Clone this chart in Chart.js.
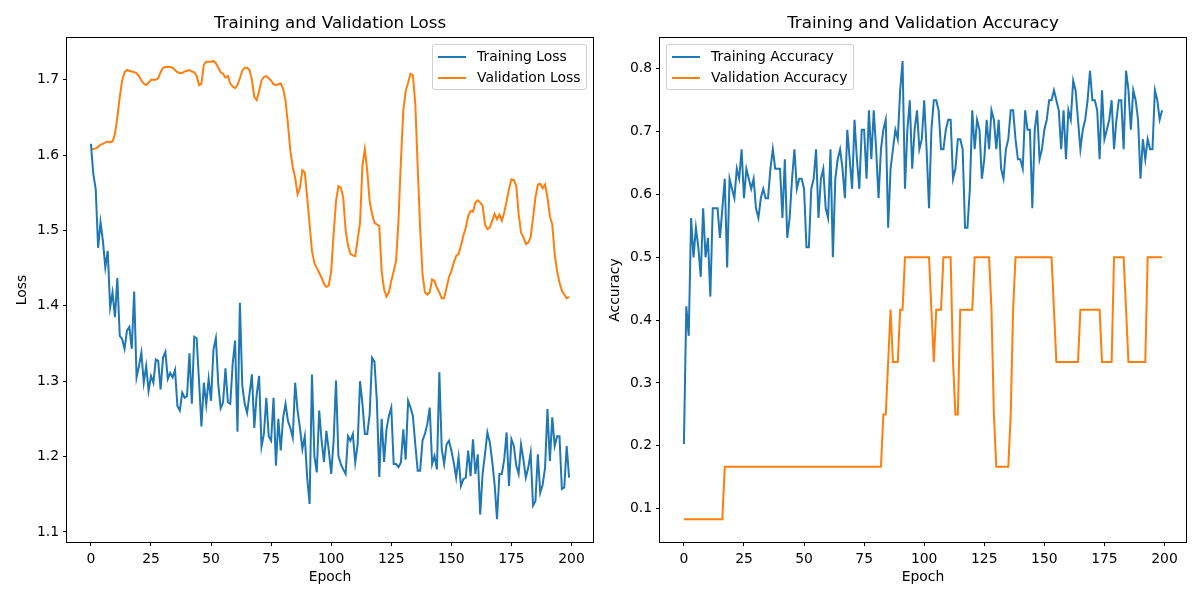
<!DOCTYPE html>
<html>
<head>
<meta charset="utf-8">
<title>Training and Validation curves</title>
<script src="https://cdn.jsdelivr.net/npm/chart.js@4.4.1/dist/chart.umd.min.js"></script>
<style>
  body { margin: 0; background: #fff; }
  #wrap { position: relative; width: 1200px; height: 600px; font-family: "DejaVu Sans", sans-serif; }
  .panel { position: absolute; top: 0; width: 600px; height: 600px; }
  .legend { position: absolute; top: 44px; height: 46px; box-sizing: border-box;
            border: 1px solid rgba(204, 204, 204, 0.9); border-radius: 3px;
            background: rgba(255, 255, 255, 0.8); font-size: 13.9px; color: #000; }
  .legend .swatch { position: absolute; left: 5px; width: 28px; height: 2px; }
  .legend .label { position: absolute; left: 44px; line-height: 16px; white-space: nowrap; }
</style>
</head>
<body>
<div id="wrap">
  <div class="panel" style="left:0"><canvas id="lossChart" width="600" height="600"></canvas></div>
  <div class="panel" style="left:600px"><canvas id="accChart" width="600" height="600"></canvas></div>

  <div class="legend" style="left:432px; width:155px">
    <div class="swatch" style="top:11px; background:#1f77b4"></div><div class="label" style="top:3px">Training Loss</div>
    <div class="swatch" style="top:32px; background:#ff7f0e"></div><div class="label" style="top:24px">Validation Loss</div>
  </div>
  <div class="legend" style="left:666px; width:188px">
    <div class="swatch" style="top:11px; background:#1f77b4"></div><div class="label" style="top:3px">Training Accuracy</div>
    <div class="swatch" style="top:32px; background:#ff7f0e"></div><div class="label" style="top:24px">Validation Accuracy</div>
  </div>
</div>

<script>
/*** values, one per epoch ***/
const trainLoss = [
  1.615, 1.575, 1.555, 1.477, 1.511, 1.486, 1.451, 1.473, 1.398, 1.418,
  1.385, 1.437, 1.360, 1.356, 1.343, 1.367, 1.372, 1.343, 1.419, 1.305,
  1.320, 1.338, 1.298, 1.320, 1.287, 1.307, 1.298, 1.329, 1.327, 1.289,
  1.331, 1.339, 1.303, 1.311, 1.305, 1.315, 1.267, 1.261, 1.285, 1.278,
  1.280, 1.337, 1.270, 1.359, 1.357, 1.300, 1.240, 1.298, 1.269, 1.303,
  1.274, 1.342, 1.357, 1.296, 1.264, 1.272, 1.317, 1.272, 1.270, 1.323,
  1.354, 1.233, 1.404, 1.294, 1.270, 1.258, 1.283, 1.309, 1.238, 1.283,
  1.307, 1.213, 1.230, 1.278, 1.227, 1.221, 1.278, 1.188, 1.250, 1.208,
  1.252, 1.270, 1.247, 1.238, 1.225, 1.298, 1.261, 1.238, 1.210, 1.227,
  1.172, 1.137, 1.309, 1.201, 1.179, 1.261, 1.221, 1.193, 1.234, 1.208,
  1.177, 1.221, 1.301, 1.201, 1.190, 1.183, 1.177, 1.227, 1.221, 1.230,
  1.192, 1.216, 1.300, 1.270, 1.230, 1.230, 1.256, 1.331, 1.326, 1.274,
  1.173, 1.250, 1.193, 1.236, 1.254, 1.265, 1.190, 1.190, 1.186, 1.192,
  1.236, 1.196, 1.274, 1.265, 1.254, 1.216, 1.181, 1.181, 1.221, 1.230,
  1.243, 1.265, 1.190, 1.201, 1.183, 1.312, 1.210, 1.190, 1.216, 1.221,
  1.208, 1.192, 1.172, 1.199, 1.161, 1.170, 1.172, 1.208, 1.174, 1.223,
  1.177, 1.203, 1.123, 1.177, 1.203, 1.232, 1.219, 1.194, 1.163, 1.117,
  1.177, 1.177, 1.196, 1.232, 1.161, 1.223, 1.214, 1.188, 1.177, 1.216,
  1.196, 1.172, 1.185, 1.205, 1.135, 1.141, 1.203, 1.152, 1.163, 1.185,
  1.263, 1.194, 1.252, 1.214, 1.227, 1.227, 1.157, 1.159, 1.214, 1.172
];

const valLoss = [
  1.608, 1.608, 1.609, 1.611, 1.614, 1.615, 1.617, 1.618, 1.617, 1.618,
  1.628, 1.650, 1.677, 1.699, 1.710, 1.713, 1.712, 1.711, 1.710, 1.709,
  1.705, 1.699, 1.695, 1.693, 1.696, 1.700, 1.700, 1.700, 1.702, 1.710,
  1.716, 1.717, 1.717, 1.717, 1.716, 1.713, 1.710, 1.709, 1.709, 1.711,
  1.712, 1.713, 1.711, 1.710, 1.705, 1.693, 1.695, 1.720, 1.724, 1.724,
  1.724, 1.725, 1.722, 1.716, 1.710, 1.708, 1.703, 1.705, 1.695, 1.691,
  1.689, 1.693, 1.702, 1.712, 1.716, 1.716, 1.713, 1.700, 1.677, 1.673,
  1.685, 1.699, 1.704, 1.705, 1.702, 1.699, 1.694, 1.693, 1.694, 1.695,
  1.688, 1.672, 1.641, 1.606, 1.584, 1.570, 1.548, 1.557, 1.580, 1.577,
  1.544, 1.508, 1.473, 1.457, 1.450, 1.444, 1.437, 1.429, 1.425, 1.427,
  1.446, 1.495, 1.539, 1.559, 1.557, 1.544, 1.500, 1.480, 1.469, 1.467,
  1.466, 1.488, 1.510, 1.586, 1.608, 1.579, 1.539, 1.522, 1.510, 1.508,
  1.506, 1.446, 1.422, 1.412, 1.418, 1.433, 1.446, 1.460, 1.513, 1.592,
  1.659, 1.685, 1.696, 1.708, 1.706, 1.668, 1.584, 1.504, 1.442, 1.418,
  1.415, 1.418, 1.435, 1.433, 1.424, 1.418, 1.410, 1.410, 1.424, 1.438,
  1.446, 1.457, 1.466, 1.469, 1.480, 1.493, 1.504, 1.519, 1.526, 1.525,
  1.537, 1.540, 1.537, 1.533, 1.508, 1.502, 1.504, 1.513, 1.522, 1.515,
  1.521, 1.513, 1.524, 1.539, 1.555, 1.568, 1.567, 1.559, 1.522, 1.497,
  1.491, 1.482, 1.484, 1.491, 1.517, 1.544, 1.561, 1.562, 1.556, 1.561,
  1.544, 1.519, 1.508, 1.469, 1.446, 1.431, 1.420, 1.415, 1.410, 1.412
];

const trainAcc = [
  0.203, 0.422, 0.375, 0.5625, 0.500, 0.547, 0.516, 0.469, 0.578, 0.500,
  0.531, 0.4375, 0.578, 0.578, 0.578, 0.531, 0.578, 0.625, 0.484, 0.625,
  0.609, 0.594, 0.641, 0.625, 0.672, 0.594, 0.641, 0.625, 0.609, 0.625,
  0.578, 0.5625, 0.594, 0.609, 0.594, 0.594, 0.641, 0.672, 0.641, 0.641,
  0.641, 0.5625, 0.656, 0.531, 0.5625, 0.625, 0.672, 0.609, 0.625, 0.625,
  0.609, 0.516, 0.516, 0.609, 0.625, 0.672, 0.5625, 0.625, 0.641, 0.578,
  0.5625, 0.672, 0.500, 0.625, 0.656, 0.672, 0.641, 0.594, 0.703, 0.656,
  0.609, 0.719, 0.656, 0.609, 0.703, 0.703, 0.625, 0.734, 0.656, 0.734,
  0.672, 0.594, 0.672, 0.703, 0.719, 0.547, 0.641, 0.672, 0.703, 0.688,
  0.766, 0.8125, 0.609, 0.703, 0.750, 0.641, 0.703, 0.734, 0.672, 0.688,
  0.750, 0.672, 0.578, 0.703, 0.750, 0.750, 0.734, 0.672, 0.672, 0.703,
  0.719, 0.719, 0.625, 0.641, 0.688, 0.688, 0.672, 0.547, 0.547, 0.609,
  0.734, 0.672, 0.719, 0.703, 0.625, 0.656, 0.719, 0.672, 0.734, 0.719,
  0.672, 0.719, 0.641, 0.625, 0.672, 0.688, 0.734, 0.734, 0.688, 0.656,
  0.656, 0.641, 0.734, 0.703, 0.703, 0.578, 0.703, 0.734, 0.656, 0.672,
  0.703, 0.719, 0.750, 0.750, 0.766, 0.750, 0.734, 0.672, 0.734, 0.656,
  0.734, 0.719, 0.781, 0.766, 0.719, 0.672, 0.703, 0.719, 0.750, 0.797,
  0.750, 0.750, 0.734, 0.656, 0.766, 0.688, 0.703, 0.719, 0.750, 0.672,
  0.719, 0.750, 0.750, 0.672, 0.797, 0.766, 0.703, 0.766, 0.750, 0.719,
  0.625, 0.688, 0.656, 0.688, 0.672, 0.672, 0.766, 0.750, 0.719, 0.734
];

const valAcc = [
  0.0833, 0.0833, 0.0833, 0.0833, 0.0833, 0.0833, 0.0833, 0.0833, 0.0833, 0.0833,
  0.0833, 0.0833, 0.0833, 0.0833, 0.0833, 0.0833, 0.0833, 0.1667, 0.1667, 0.1667,
  0.1667, 0.1667, 0.1667, 0.1667, 0.1667, 0.1667, 0.1667, 0.1667, 0.1667, 0.1667,
  0.1667, 0.1667, 0.1667, 0.1667, 0.1667, 0.1667, 0.1667, 0.1667, 0.1667, 0.1667,
  0.1667, 0.1667, 0.1667, 0.1667, 0.1667, 0.1667, 0.1667, 0.1667, 0.1667, 0.1667,
  0.1667, 0.1667, 0.1667, 0.1667, 0.1667, 0.1667, 0.1667, 0.1667, 0.1667, 0.1667,
  0.1667, 0.1667, 0.1667, 0.1667, 0.1667, 0.1667, 0.1667, 0.1667, 0.1667, 0.1667,
  0.1667, 0.1667, 0.1667, 0.1667, 0.1667, 0.1667, 0.1667, 0.1667, 0.1667, 0.1667,
  0.1667, 0.1667, 0.1667, 0.2500, 0.2500, 0.3333, 0.4167, 0.3333, 0.3333, 0.3333,
  0.4167, 0.4167, 0.5000, 0.5000, 0.5000, 0.5000, 0.5000, 0.5000, 0.5000, 0.5000,
  0.5000, 0.5000, 0.5000, 0.4167, 0.3333, 0.4167, 0.4167, 0.4167, 0.5000, 0.5000,
  0.5000, 0.5000, 0.3333, 0.2500, 0.2500, 0.4167, 0.4167, 0.4167, 0.4167, 0.4167,
  0.4167, 0.5000, 0.5000, 0.5000, 0.5000, 0.5000, 0.5000, 0.5000, 0.4167, 0.2500,
  0.1667, 0.1667, 0.1667, 0.1667, 0.1667, 0.1667, 0.2500, 0.4167, 0.5000, 0.5000,
  0.5000, 0.5000, 0.5000, 0.5000, 0.5000, 0.5000, 0.5000, 0.5000, 0.5000, 0.5000,
  0.5000, 0.5000, 0.5000, 0.5000, 0.4167, 0.3333, 0.3333, 0.3333, 0.3333, 0.3333,
  0.3333, 0.3333, 0.3333, 0.3333, 0.3333, 0.4167, 0.4167, 0.4167, 0.4167, 0.4167,
  0.4167, 0.4167, 0.4167, 0.4167, 0.3333, 0.3333, 0.3333, 0.3333, 0.3333, 0.5000,
  0.5000, 0.5000, 0.5000, 0.5000, 0.4167, 0.3333, 0.3333, 0.3333, 0.3333, 0.3333,
  0.3333, 0.3333, 0.3333, 0.5000, 0.5000, 0.5000, 0.5000, 0.5000, 0.5000, 0.5000
];

const epochs = trainLoss.map((_, i) => i);
const epochTicks = [0, 25, 50, 75, 100, 125, 150, 175, 200];
const lossTicks = [1.1, 1.2, 1.3, 1.4, 1.5, 1.6, 1.7];
const accTicks = [0.1, 0.2, 0.3, 0.4, 0.5, 0.6, 0.7, 0.8];

const BLUE = "#1f77b4";
const ORANGE = "#ff7f0e";

Chart.defaults.font.family = "'DejaVu Sans', sans-serif";
Chart.defaults.color = "#000";

// full box round the plot area, like matplotlib spines
const frame = {
  id: "frame",
  afterDraw(chart) {
    const { ctx, chartArea: a } = chart;
    ctx.save();
    ctx.strokeStyle = "#000";
    ctx.lineWidth = 1;
    ctx.strokeRect(Math.round(a.left) - 0.5, Math.round(a.top) - 0.5,
                   Math.round(a.width) + 1, Math.round(a.height) + 1);
    ctx.restore();
  }
};

function points(values) {
  return values.map((v, i) => ({ x: epochs[i], y: v }));
}

function setTicks(list) {
  return (scale) => { scale.ticks = list.map((v) => ({ value: v })); };
}

function makeChart(id, cfg) {
  return new Chart(document.getElementById(id).getContext("2d"), {
    type: "line",
    data: {
      datasets: cfg.series.map((s) => ({
        label: s.label,
        data: points(s.values),
        borderColor: s.color,
        backgroundColor: s.color,
        borderWidth: 2,
        pointRadius: 0,
        fill: false,
        tension: 0
      }))
    },
    options: {
      responsive: false,
      animation: false,
      layout: { padding: { left: 0, right: cfg.padRight, top: 0, bottom: 0 } },
      plugins: {
        legend: { display: false },
        tooltip: { enabled: false },
        title: {
          display: true,
          text: cfg.title,
          fullSize: false,
          color: "#000",
          font: { size: 16.7, weight: "normal" },
          padding: { top: 14, bottom: 4 }
        }
      },
      scales: {
        x: {
          type: "linear",
          min: -9.95,
          max: 208.95,
          afterBuildTicks: setTicks(epochTicks),
          afterFit: (s) => { s.height = 58; },
          border: { display: false },
          grid: { drawOnChartArea: false, drawTicks: true, tickLength: 4, color: "#000" },
          ticks: { font: { size: 13.9 }, padding: 5, autoSkip: false, maxRotation: 0,
                   callback: (v) => String(v) },
          title: { display: true, text: "Epoch", font: { size: 13.9 },
                   padding: { top: 0, bottom: 14 } }
        },
        y: {
          type: "linear",
          min: cfg.yMin,
          max: cfg.yMax,
          afterBuildTicks: setTicks(cfg.yTicks),
          afterFit: (s) => { s.width = cfg.yWidth; },
          border: { display: false },
          grid: { drawOnChartArea: false, drawTicks: true, tickLength: 4, color: "#000" },
          ticks: { font: { size: 13.9 }, padding: 4, autoSkip: false,
                   callback: (v) => v.toFixed(1) },
          title: { display: true, text: cfg.yTitle, font: { size: 13.9 },
                   padding: { top: cfg.yTitlePad, bottom: 0 } }
        }
      }
    },
    plugins: [frame]
  });
}

makeChart("lossChart", {
  title: "Training and Validation Loss",
  yTitle: "Loss",
  yMin: 1.0866, yMax: 1.7554, yTicks: lossTicks,
  yWidth: 67, yTitlePad: 14, padRight: 7,
  series: [
    { label: "Training Loss", values: trainLoss, color: BLUE },
    { label: "Validation Loss", values: valLoss, color: ORANGE }
  ]
});

makeChart("accChart", {
  title: "Training and Validation Accuracy",
  yTitle: "Accuracy",
  yMin: 0.0469, yMax: 0.849, yTicks: accTicks,
  yWidth: 60, yTitlePad: 7, padRight: 14,
  series: [
    { label: "Training Accuracy", values: trainAcc, color: BLUE },
    { label: "Validation Accuracy", values: valAcc, color: ORANGE }
  ]
});
</script>
</body>
</html>
